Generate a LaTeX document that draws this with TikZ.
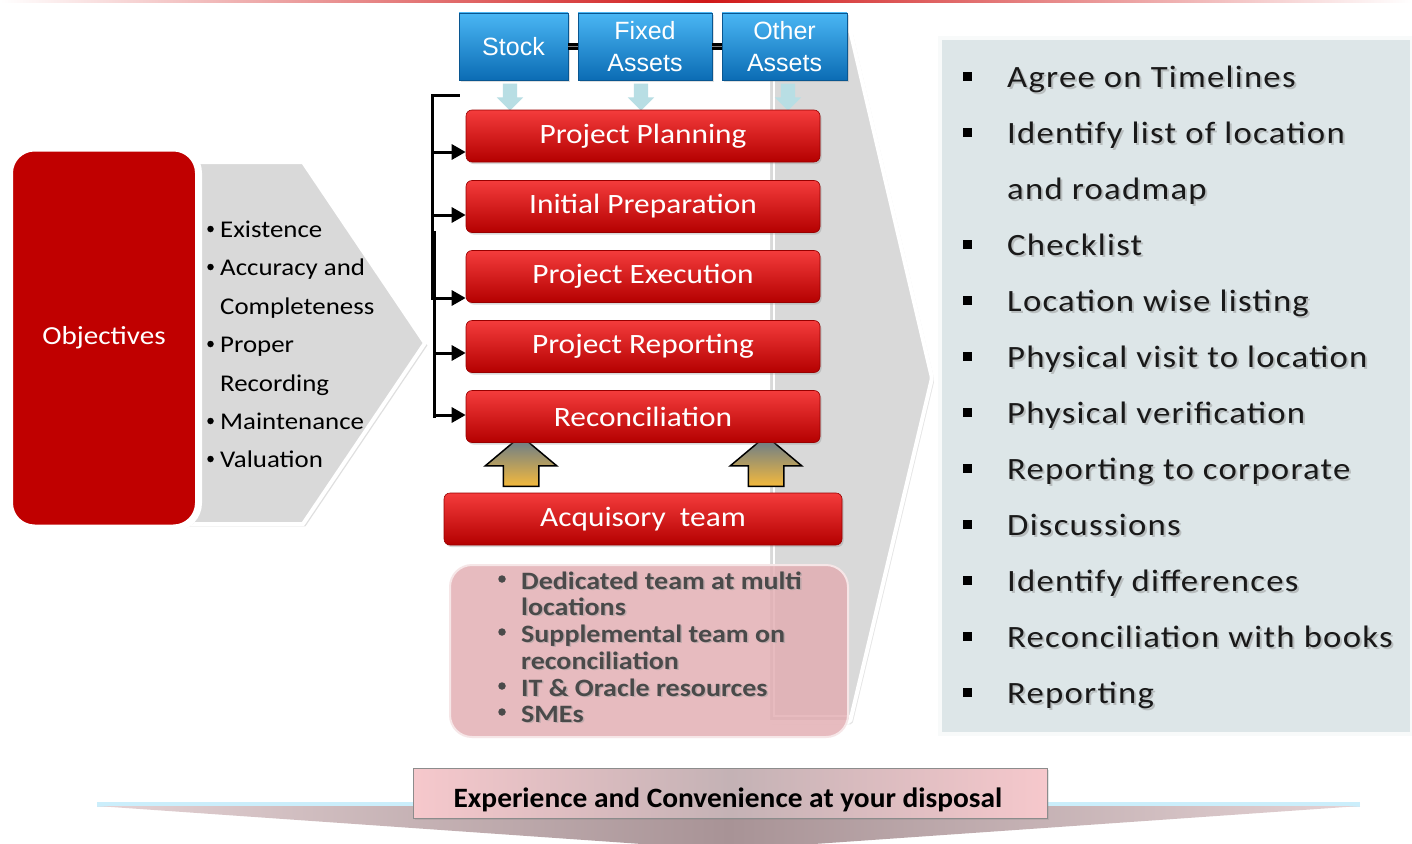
\documentclass[tikz,border=0pt]{standalone}
\usepackage{fontspec}
\setmainfont{Carlito}[FakeStretch=1.12]
\newfontfamily\arialf{Liberation Sans}
\newfontfamily\plainf{Carlito}[FakeStretch=1.05]
\newfontfamily\listf{Carlito}[FakeStretch=1.12,LetterSpace=4]
\usetikzlibrary{shapes.arrows,shadows,calc,arrows.meta}
\definecolor{rtop}{HTML}{F43C3C}
\definecolor{rmid}{HTML}{C80000}
\definecolor{rbot}{HTML}{B40000}
\definecolor{btop}{HTML}{4AB6F4}
\definecolor{bbot}{HTML}{0B6CB4}
\definecolor{objred}{HTML}{C00000}
\definecolor{chevgray}{HTML}{D9D9D9}
\definecolor{panelc}{HTML}{DDE6E8}
\definecolor{pinkc}{HTML}{E2ABB0}
\definecolor{txtgray}{HTML}{4A4A4A}
\definecolor{cyanarr}{HTML}{B8DEE4}
\definecolor{topred}{HTML}{D01818}
\definecolor{arrtop}{HTML}{5F7890}
\definecolor{arrbot}{HTML}{F4B93C}
\definecolor{exppink}{HTML}{F6C8CC}
\definecolor{expgray}{HTML}{C4B2B5}
\definecolor{wingmid}{HTML}{A89396}
\definecolor{wingside}{HTML}{E4D2D4}
\tikzset{
  redbox/.style={rounded corners=6pt, minimum width=354pt, minimum height=52pt,
    top color=rtop, middle color=rmid, bottom color=rbot, draw=rbot!85!black,
    line width=0.6pt, text=white, font=\fontsize{28}{30}\selectfont,
    drop shadow={opacity=0.3, shadow xshift=1.5pt, shadow yshift=-2pt}},
  bluebox/.style={minimum height=67pt, top color=btop, bottom color=bbot,
    draw=bbot!80!black, line width=0.6pt, text=white, align=center,
    font=\arialf\fontsize{25}{30}\selectfont, inner sep=2pt,
    drop shadow={opacity=0.25, shadow xshift=1.5pt, shadow yshift=-2pt}},
  cyanarrow/.style={single arrow, shape border rotate=270, fill=cyanarr,
    minimum height=27pt, inner sep=7pt, single arrow head extend=6pt},
  goldarrow/.style={single arrow, shape border rotate=90, top color=arrtop,
    bottom color=arrbot, draw=black, line width=1.5pt, minimum height=49pt,
    inner sep=17pt, single arrow head extend=18pt, single arrow tip angle=100},
  objtxt/.style={anchor=base west, inner sep=0pt, font=\fontsize{24}{28}\selectfont},
  rtxt/.style={anchor=base west, inner sep=0pt, font=\listf\fontsize{31}{33}\selectfont},
  ptxt/.style={anchor=base west, inner sep=0pt, text=txtgray,
    font=\bfseries\fontsize{25}{27}\selectfont},
  brk/.style={line width=3pt, line cap=rect},
  brkarrow/.style={line width=3pt, -{Triangle[length=14pt,width=15pt]}},
  sqbullet/.style={fill=black, minimum size=9pt, inner sep=0pt},
  dotbullet/.style={circle, fill=black, minimum size=6.5pt, inner sep=0pt},
}
\begin{document}
\begin{tikzpicture}[x=1pt,y=-1pt]
\useasboundingbox (0,0) rectangle (1412,843);
\fill[white] (0,0) rectangle (1412,843);
% top red line
\shade[left color=white, right color=white, middle color=topred] (0,0) rectangle (1412,3);

% left chevron and objectives
\filldraw[fill=chevgray, draw=white, line width=4pt, drop shadow={opacity=0.25}]
  (175,162) -- (303,162) -- (425,343) -- (303,524) -- (175,524) -- cycle;
\node[fill=objred, draw=white, line width=7pt, rounded corners=25pt,
  minimum width=189pt, minimum height=380pt, text=white,
  font=\fontsize{26}{30}\selectfont, drop shadow={opacity=0.3}] (obj) at (104,338) {Objectives};
\foreach \b/\t/\y [count=\i] in {1/Existence/237, 1/Accuracy and/275, 0/Completeness/314,
   1/Proper/352, 0/Recording/391, 1/Maintenance/429, 1/Valuation/467}{
  \node[objtxt] (o\i) at (220,\y) {\t};
  \ifnum\b=1 \node[dotbullet] (ob\i) at (210.5,\y-8) {};\fi
}

% big middle chevron
\filldraw[fill=chevgray, draw=white, line width=4pt, rounded corners=2pt,
  drop shadow={opacity=0.2}]
  (768,30) -- (850,30) -- (932,378) -- (850,722) -- (768,722) -- cycle;
\draw[white, line width=2pt] (774,80) -- (774,716) -- (850,716);

% right panel
\node[fill=panelc, draw=white!80!panelc, line width=4pt, minimum width=472pt,
  minimum height=696pt, drop shadow={opacity=0.3}] (panel) at (1176,386) {};
\foreach \b/\t/\y [count=\i] in {1/Agree on Timelines/87, 1/Identify list of location/143,
   0/and roadmap/199, 1/Checklist/255, 1/Location wise listing/311,
   1/Physical visit to location/367, 1/Physical verification/423,
   1/Reporting to corporate/479, 1/Discussions/535, 1/Identify differences/591,
   1/Reconciliation with books/647, 1/Reporting/703}{
  \node[rtxt, text=black!45, opacity=0.45] (rs\i) at (1009,\y+2.5) {\t};
  \node[rtxt, text=black!90] (r\i) at (1007,\y) {\t};
  \ifnum\b=1 \node[sqbullet] (rb\i) at (967,\y-11) {};\fi
}

% blue boxes
\node[bluebox, minimum width=109pt] (stock) at (513.5,46.5) {Stock};
\node[bluebox, minimum width=134pt] (fixed) at (645,46.5) {Fixed\\[2pt]Assets};
\node[bluebox, minimum width=125pt] (other) at (784.5,46.5) {Other\\[2pt]Assets};
\draw[line width=7pt] (stock.east) -- (fixed.west);
\draw[line width=7pt] (fixed.east) -- (other.west);
\draw[gray, line width=1pt] (stock.east) -- (fixed.west);
\draw[gray, line width=1pt] (fixed.east) -- (other.west);

% cyan arrows
\node[cyanarrow] (ca1) at (510,93.5) {};
\node[cyanarrow] (ca2) at (641,93.5) {};
\node[cyanarrow] (ca3) at (788,93.5) {};

% gold arrows
\node[goldarrow] (ga1) at (521,468.5) {};
\node[goldarrow] (ga2) at (766,468.5) {};

% red boxes
\node[redbox] (pp) at (643,136) {Project Planning};
\node[redbox] (ip) at (643,206.5) {Initial Preparation};
\node[redbox] (pe) at (643,276.5) {Project Execution};
\node[redbox] (pr) at (643,346.5) {Project Reporting};
\node[redbox] (rc) at (643,416.5) {Reconciliation};
\node[redbox, minimum width=398pt] (acq) at (643,519) {Acquisory\ \ team};

% bracket
\coordinate (bt) at (458,95);
\coordinate (b1) at (432,95);
\coordinate (b2) at (432,298);
\coordinate (b3) at (434,232);
\coordinate (b4) at (434,416);
\draw[brk] (bt) -- (b1) -- (b2);
\draw[brk] (b3) -- (b4);
\coordinate (y1) at (432,152);
\coordinate (y2) at (432,215);
\coordinate (y3) at (432,298);
\coordinate (y4) at (434,353);
\coordinate (y5) at (434,415);
\draw[brkarrow] (y1) -- (y1 -| pp.west);
\draw[brkarrow] (y2) -- (y2 -| ip.west);
\draw[brkarrow] (y3) -- (y3 -| pe.west);
\draw[brkarrow] (y4) -- (y4 -| pr.west);
\draw[brkarrow] (y5) -- (y5 -| rc.west);

% pink box
\node[fill=pinkc, fill opacity=0.8, draw=white!70!pinkc, line width=2pt,
  rounded corners=22pt, minimum width=398pt, minimum height=172pt] (pink) at (649,651) {};
\foreach \b/\t/\y [count=\i] in {1/Dedicated team at multi/589, 0/locations/615,
   1/Supplemental team on/642, 0/reconciliation/669, 1/IT \& Oracle resources/696, 1/SMEs/722}{
  \node[ptxt, text=black!40, opacity=0.5] (ps\i) at (522.5,\y+1.5) {\t};
  \node[ptxt] (p\i) at (521,\y) {\t};
  \ifnum\b=1 \node[dotbullet, fill=txtgray, minimum size=7.5pt] (pb\i) at (502,\y-10) {};\fi
}

% bottom banner
\draw[cyan!25, line width=5pt, opacity=0.8] (97,804) -- (1360,804);
\shade[left color=wingside, right color=wingside, middle color=wingmid]
  (97,806) -- (1360,806) -- (728,850) -- cycle;
\node[left color=exppink, right color=exppink, middle color=expgray, draw=black!45,
  line width=0.8pt, minimum width=634pt, minimum height=50pt,
  drop shadow={opacity=0.2}] (expbox) at (730,793) {};
\node[font=\plainf\bfseries\fontsize{28}{30}\selectfont, inner sep=0pt] (exp) at (728,800)
  {Experience and Convenience at your disposal};
\end{tikzpicture}
\end{document}
